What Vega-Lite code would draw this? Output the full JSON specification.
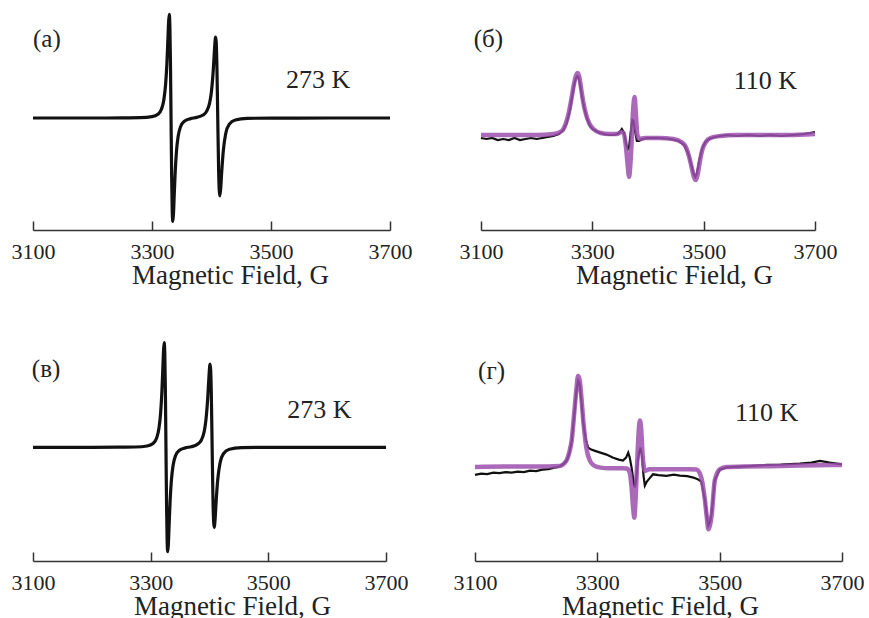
{
  "$schema": "https://vega.github.io/schema/vega-lite/v6.json",
  "background": "white",
  "padding": {"left": 11, "top": 8, "right": 0, "bottom": 0},
  "config": {
    "view": {"stroke": null},
    "axisX": {
      "domainColor": "#333333", "domainWidth": 1.5,
      "tickColor": "#333333", "tickWidth": 1.5, "tickSize": -9,
      "grid": false,
      "labelFont": "Liberation Serif", "labelFontSize": 22, "labelColor": "#222222",
      "labelPadding": 20, "labelFlush": false, "labelOverlap": false,
      "titleFont": "Liberation Serif", "titleFontSize": 27, "titleFontWeight": "normal",
      "titleColor": "#222222", "titlePadding": 0, "titleAlign": "center"
    }
  },
  "datasets": {
    "spec": [
      {"panel":"a","series":"exp","x":3100,"y":0},{"panel":"a","series":"exp","x":3200,"y":0},{"panel":"a","series":"exp","x":3250,"y":0.001},{"panel":"a","series":"exp","x":3280,"y":0.003},{"panel":"a","series":"exp","x":3300,"y":0.013},{"panel":"a","series":"exp","x":3310,"y":0.038},{"panel":"a","series":"exp","x":3316,"y":0.09},{"panel":"a","series":"exp","x":3320,"y":0.185},{"panel":"a","series":"exp","x":3323,"y":0.346},{"panel":"a","series":"exp","x":3325,"y":0.542},{"panel":"a","series":"exp","x":3326.5,"y":0.752},{"panel":"a","series":"exp","x":3328,"y":0.969},{"panel":"a","series":"exp","x":3329,"y":1.036},{"panel":"a","series":"exp","x":3330,"y":0.932},{"panel":"a","series":"exp","x":3331,"y":0.57},{"panel":"a","series":"exp","x":3332,"y":0.001},{"panel":"a","series":"exp","x":3333,"y":-0.568},{"panel":"a","series":"exp","x":3334,"y":-0.93},{"panel":"a","series":"exp","x":3335,"y":-1.034},{"panel":"a","series":"exp","x":3336,"y":-0.967},{"panel":"a","series":"exp","x":3337.5,"y":-0.75},{"panel":"a","series":"exp","x":3339,"y":-0.54},{"panel":"a","series":"exp","x":3341,"y":-0.343},{"panel":"a","series":"exp","x":3344,"y":-0.182},{"panel":"a","series":"exp","x":3348,"y":-0.087},{"panel":"a","series":"exp","x":3355,"y":-0.03},{"panel":"a","series":"exp","x":3365,"y":-0.006},{"panel":"a","series":"exp","x":3375,"y":0.006},{"panel":"a","series":"exp","x":3385,"y":0.027},{"panel":"a","series":"exp","x":3392,"y":0.069},{"panel":"a","series":"exp","x":3397,"y":0.154},{"panel":"a","series":"exp","x":3400,"y":0.269},{"panel":"a","series":"exp","x":3403,"y":0.481},{"panel":"a","series":"exp","x":3405,"y":0.68},{"panel":"a","series":"exp","x":3406.5,"y":0.798},{"panel":"a","series":"exp","x":3407,"y":0.809},{"panel":"a","series":"exp","x":3408,"y":0.75},{"panel":"a","series":"exp","x":3409,"y":0.547},{"panel":"a","series":"exp","x":3410.5,"y":-0.001},{"panel":"a","series":"exp","x":3412,"y":-0.53},{"panel":"a","series":"exp","x":3413,"y":-0.72},{"panel":"a","series":"exp","x":3414,"y":-0.78},{"panel":"a","series":"exp","x":3415.5,"y":-0.7},{"panel":"a","series":"exp","x":3417,"y":-0.555},{"panel":"a","series":"exp","x":3420,"y":-0.318},{"panel":"a","series":"exp","x":3424,"y":-0.152},{"panel":"a","series":"exp","x":3430,"y":-0.061},{"panel":"a","series":"exp","x":3440,"y":-0.02},{"panel":"a","series":"exp","x":3460,"y":-0.004},{"panel":"a","series":"exp","x":3500,"y":-0.001},{"panel":"a","series":"exp","x":3600,"y":0},{"panel":"a","series":"exp","x":3700,"y":0},

      {"panel":"c","series":"exp","x":3100,"y":0},{"panel":"c","series":"exp","x":3200,"y":0},{"panel":"c","series":"exp","x":3244,"y":0.001},{"panel":"c","series":"exp","x":3274,"y":0.003},{"panel":"c","series":"exp","x":3294,"y":0.013},{"panel":"c","series":"exp","x":3304,"y":0.038},{"panel":"c","series":"exp","x":3310,"y":0.091},{"panel":"c","series":"exp","x":3314,"y":0.187},{"panel":"c","series":"exp","x":3317,"y":0.35},{"panel":"c","series":"exp","x":3319,"y":0.548},{"panel":"c","series":"exp","x":3320.5,"y":0.76},{"panel":"c","series":"exp","x":3322,"y":0.98},{"panel":"c","series":"exp","x":3323,"y":1.048},{"panel":"c","series":"exp","x":3324,"y":0.942},{"panel":"c","series":"exp","x":3325,"y":0.576},{"panel":"c","series":"exp","x":3326,"y":0.001},{"panel":"c","series":"exp","x":3327,"y":-0.574},{"panel":"c","series":"exp","x":3328,"y":-0.94},{"panel":"c","series":"exp","x":3329,"y":-1.044},{"panel":"c","series":"exp","x":3330,"y":-0.977},{"panel":"c","series":"exp","x":3331.5,"y":-0.758},{"panel":"c","series":"exp","x":3333,"y":-0.545},{"panel":"c","series":"exp","x":3335,"y":-0.346},{"panel":"c","series":"exp","x":3338,"y":-0.184},{"panel":"c","series":"exp","x":3342,"y":-0.088},{"panel":"c","series":"exp","x":3349,"y":-0.03},{"panel":"c","series":"exp","x":3359,"y":-0.006},{"panel":"c","series":"exp","x":3369,"y":0.006},{"panel":"c","series":"exp","x":3379,"y":0.028},{"panel":"c","series":"exp","x":3386,"y":0.071},{"panel":"c","series":"exp","x":3391,"y":0.158},{"panel":"c","series":"exp","x":3394,"y":0.277},{"panel":"c","series":"exp","x":3397,"y":0.495},{"panel":"c","series":"exp","x":3399,"y":0.7},{"panel":"c","series":"exp","x":3400.5,"y":0.82},{"panel":"c","series":"exp","x":3401,"y":0.833},{"panel":"c","series":"exp","x":3402,"y":0.772},{"panel":"c","series":"exp","x":3403,"y":0.563},{"panel":"c","series":"exp","x":3404.5,"y":-0.001},{"panel":"c","series":"exp","x":3406,"y":-0.56},{"panel":"c","series":"exp","x":3407,"y":-0.74},{"panel":"c","series":"exp","x":3408,"y":-0.8},{"panel":"c","series":"exp","x":3409.5,"y":-0.72},{"panel":"c","series":"exp","x":3411,"y":-0.57},{"panel":"c","series":"exp","x":3414,"y":-0.323},{"panel":"c","series":"exp","x":3418,"y":-0.154},{"panel":"c","series":"exp","x":3424,"y":-0.062},{"panel":"c","series":"exp","x":3434,"y":-0.02},{"panel":"c","series":"exp","x":3454,"y":-0.004},{"panel":"c","series":"exp","x":3494,"y":-0.001},{"panel":"c","series":"exp","x":3600,"y":0},{"panel":"c","series":"exp","x":3700,"y":0},

      {"panel":"b","series":"exp","x":3100,"y":-0.01},{"panel":"b","series":"exp","x":3110,"y":-0.02},{"panel":"b","series":"exp","x":3120,"y":-0.01},{"panel":"b","series":"exp","x":3130,"y":-0.03},{"panel":"b","series":"exp","x":3140,"y":-0.02},{"panel":"b","series":"exp","x":3150,"y":-0.03},{"panel":"b","series":"exp","x":3160,"y":-0.01},{"panel":"b","series":"exp","x":3170,"y":-0.03},{"panel":"b","series":"exp","x":3180,"y":-0.02},{"panel":"b","series":"exp","x":3190,"y":-0.01},{"panel":"b","series":"exp","x":3200,"y":-0.02},{"panel":"b","series":"exp","x":3210,"y":-0.01},{"panel":"b","series":"exp","x":3220,"y":0},{"panel":"b","series":"exp","x":3230,"y":0.01},{"panel":"b","series":"exp","x":3240,"y":0.03},{"panel":"b","series":"exp","x":3248,"y":0.07},{"panel":"b","series":"exp","x":3254,"y":0.14},{"panel":"b","series":"exp","x":3259,"y":0.25},{"panel":"b","series":"exp","x":3263,"y":0.38},{"panel":"b","series":"exp","x":3267,"y":0.51},{"panel":"b","series":"exp","x":3270,"y":0.58},{"panel":"b","series":"exp","x":3273,"y":0.61},{"panel":"b","series":"exp","x":3275,"y":0.6},{"panel":"b","series":"exp","x":3278,"y":0.53},{"panel":"b","series":"exp","x":3281,"y":0.42},{"panel":"b","series":"exp","x":3285,"y":0.3},{"panel":"b","series":"exp","x":3290,"y":0.19},{"panel":"b","series":"exp","x":3295,"y":0.12},{"panel":"b","series":"exp","x":3300,"y":0.08},{"panel":"b","series":"exp","x":3310,"y":0.05},{"panel":"b","series":"exp","x":3320,"y":0.03},{"panel":"b","series":"exp","x":3330,"y":0.02},{"panel":"b","series":"exp","x":3340,"y":0.02},{"panel":"b","series":"exp","x":3348,"y":0.04},{"panel":"b","series":"exp","x":3353,"y":0.08},{"panel":"b","series":"exp","x":3357,"y":0.04},{"panel":"b","series":"exp","x":3361,"y":-0.08},{"panel":"b","series":"exp","x":3364,"y":-0.12},{"panel":"b","series":"exp","x":3366,"y":-0.1},{"panel":"b","series":"exp","x":3369,"y":0.05},{"panel":"b","series":"exp","x":3372,"y":0.17},{"panel":"b","series":"exp","x":3374,"y":0.16},{"panel":"b","series":"exp","x":3377,"y":0.05},{"panel":"b","series":"exp","x":3380,"y":-0.04},{"panel":"b","series":"exp","x":3384,"y":-0.04},{"panel":"b","series":"exp","x":3390,"y":-0.02},{"panel":"b","series":"exp","x":3400,"y":-0.01},{"panel":"b","series":"exp","x":3420,"y":-0.01},{"panel":"b","series":"exp","x":3440,"y":-0.02},{"panel":"b","series":"exp","x":3455,"y":-0.04},{"panel":"b","series":"exp","x":3465,"y":-0.08},{"panel":"b","series":"exp","x":3472,"y":-0.16},{"panel":"b","series":"exp","x":3478,"y":-0.28},{"panel":"b","series":"exp","x":3482,"y":-0.37},{"panel":"b","series":"exp","x":3485,"y":-0.4},{"panel":"b","series":"exp","x":3488,"y":-0.36},{"panel":"b","series":"exp","x":3492,"y":-0.24},{"panel":"b","series":"exp","x":3497,"y":-0.12},{"panel":"b","series":"exp","x":3503,"y":-0.05},{"panel":"b","series":"exp","x":3510,"y":-0.02},{"panel":"b","series":"exp","x":3520,"y":0},{"panel":"b","series":"exp","x":3540,"y":0.02},{"panel":"b","series":"exp","x":3560,"y":0.01},{"panel":"b","series":"exp","x":3580,"y":0.02},{"panel":"b","series":"exp","x":3600,"y":0.01},{"panel":"b","series":"exp","x":3620,"y":0.02},{"panel":"b","series":"exp","x":3640,"y":0.01},{"panel":"b","series":"exp","x":3660,"y":0.02},{"panel":"b","series":"exp","x":3680,"y":0.03},{"panel":"b","series":"exp","x":3690,"y":0.04},{"panel":"b","series":"exp","x":3700,"y":0.05},

      {"panel":"b","series":"sim","x":3100,"y":0.02},{"panel":"b","series":"sim","x":3150,"y":0.02},{"panel":"b","series":"sim","x":3200,"y":0.02},{"panel":"b","series":"sim","x":3230,"y":0.03},{"panel":"b","series":"sim","x":3245,"y":0.06},{"panel":"b","series":"sim","x":3252,"y":0.13},{"panel":"b","series":"sim","x":3258,"y":0.25},{"panel":"b","series":"sim","x":3263,"y":0.4},{"panel":"b","series":"sim","x":3267,"y":0.53},{"panel":"b","series":"sim","x":3271,"y":0.62},{"panel":"b","series":"sim","x":3274,"y":0.64},{"panel":"b","series":"sim","x":3277,"y":0.59},{"panel":"b","series":"sim","x":3280,"y":0.48},{"panel":"b","series":"sim","x":3284,"y":0.34},{"panel":"b","series":"sim","x":3289,"y":0.22},{"panel":"b","series":"sim","x":3295,"y":0.13},{"panel":"b","series":"sim","x":3302,"y":0.08},{"panel":"b","series":"sim","x":3315,"y":0.04},{"panel":"b","series":"sim","x":3330,"y":0.03},{"panel":"b","series":"sim","x":3345,"y":0.03},{"panel":"b","series":"sim","x":3352,"y":0.05},{"panel":"b","series":"sim","x":3356,"y":0.04},{"panel":"b","series":"sim","x":3360,"y":-0.08},{"panel":"b","series":"sim","x":3363,"y":-0.25},{"panel":"b","series":"sim","x":3366,"y":-0.4},{"panel":"b","series":"sim","x":3368,"y":-0.3},{"panel":"b","series":"sim","x":3371,"y":0},{"panel":"b","series":"sim","x":3373,"y":0.25},{"panel":"b","series":"sim","x":3376,"y":0.4},{"panel":"b","series":"sim","x":3378,"y":0.25},{"panel":"b","series":"sim","x":3381,"y":0.02},{"panel":"b","series":"sim","x":3385,"y":-0.02},{"panel":"b","series":"sim","x":3395,"y":-0.01},{"panel":"b","series":"sim","x":3420,"y":-0.01},{"panel":"b","series":"sim","x":3445,"y":-0.02},{"panel":"b","series":"sim","x":3460,"y":-0.05},{"panel":"b","series":"sim","x":3468,"y":-0.1},{"panel":"b","series":"sim","x":3474,"y":-0.2},{"panel":"b","series":"sim","x":3479,"y":-0.32},{"panel":"b","series":"sim","x":3483,"y":-0.41},{"panel":"b","series":"sim","x":3486,"y":-0.43},{"panel":"b","series":"sim","x":3489,"y":-0.38},{"panel":"b","series":"sim","x":3493,"y":-0.25},{"panel":"b","series":"sim","x":3498,"y":-0.12},{"panel":"b","series":"sim","x":3504,"y":-0.05},{"panel":"b","series":"sim","x":3512,"y":-0.01},{"panel":"b","series":"sim","x":3530,"y":0.01},{"panel":"b","series":"sim","x":3560,"y":0.02},{"panel":"b","series":"sim","x":3600,"y":0.02},{"panel":"b","series":"sim","x":3650,"y":0.02},{"panel":"b","series":"sim","x":3700,"y":0.03},

      {"panel":"d","series":"exp","x":3100,"y":-0.073},{"panel":"d","series":"exp","x":3110,"y":-0.06},{"panel":"d","series":"exp","x":3120,"y":-0.065},{"panel":"d","series":"exp","x":3130,"y":-0.05},{"panel":"d","series":"exp","x":3140,"y":-0.055},{"panel":"d","series":"exp","x":3150,"y":-0.045},{"panel":"d","series":"exp","x":3160,"y":-0.05},{"panel":"d","series":"exp","x":3170,"y":-0.04},{"panel":"d","series":"exp","x":3180,"y":-0.045},{"panel":"d","series":"exp","x":3190,"y":-0.03},{"panel":"d","series":"exp","x":3200,"y":-0.035},{"panel":"d","series":"exp","x":3210,"y":-0.02},{"panel":"d","series":"exp","x":3220,"y":-0.015},{"panel":"d","series":"exp","x":3230,"y":0},{"panel":"d","series":"exp","x":3238,"y":0.01},{"panel":"d","series":"exp","x":3245,"y":0.04},{"panel":"d","series":"exp","x":3250,"y":0.07},{"panel":"d","series":"exp","x":3254,"y":0.14},{"panel":"d","series":"exp","x":3258,"y":0.26},{"panel":"d","series":"exp","x":3263,"y":0.57},{"panel":"d","series":"exp","x":3266,"y":0.78},{"panel":"d","series":"exp","x":3268.5,"y":0.87},{"panel":"d","series":"exp","x":3271,"y":0.84},{"panel":"d","series":"exp","x":3274,"y":0.66},{"panel":"d","series":"exp","x":3277,"y":0.45},{"panel":"d","series":"exp","x":3281,"y":0.28},{"panel":"d","series":"exp","x":3285,"y":0.2},{"panel":"d","series":"exp","x":3290,"y":0.18},{"panel":"d","series":"exp","x":3295,"y":0.17},{"panel":"d","series":"exp","x":3305,"y":0.15},{"panel":"d","series":"exp","x":3315,"y":0.13},{"panel":"d","series":"exp","x":3325,"y":0.1},{"panel":"d","series":"exp","x":3335,"y":0.08},{"panel":"d","series":"exp","x":3342,"y":0.07},{"panel":"d","series":"exp","x":3347,"y":0.1},{"panel":"d","series":"exp","x":3350.5,"y":0.15},{"panel":"d","series":"exp","x":3353,"y":0.1},{"panel":"d","series":"exp","x":3356,"y":0},{"panel":"d","series":"exp","x":3359,"y":-0.13},{"panel":"d","series":"exp","x":3361,"y":-0.2},{"panel":"d","series":"exp","x":3363,"y":-0.15},{"panel":"d","series":"exp","x":3365,"y":0},{"panel":"d","series":"exp","x":3368,"y":0.15},{"panel":"d","series":"exp","x":3370.5,"y":0.2},{"panel":"d","series":"exp","x":3373,"y":0.12},{"panel":"d","series":"exp","x":3375.5,"y":-0.08},{"panel":"d","series":"exp","x":3377.7,"y":-0.18},{"panel":"d","series":"exp","x":3381,"y":-0.14},{"panel":"d","series":"exp","x":3385,"y":-0.11},{"panel":"d","series":"exp","x":3391,"y":-0.067},{"panel":"d","series":"exp","x":3400,"y":-0.075},{"panel":"d","series":"exp","x":3413,"y":-0.083},{"panel":"d","series":"exp","x":3425,"y":-0.07},{"panel":"d","series":"exp","x":3435,"y":-0.08},{"panel":"d","series":"exp","x":3447,"y":-0.085},{"panel":"d","series":"exp","x":3457,"y":-0.1},{"panel":"d","series":"exp","x":3465,"y":-0.12},{"panel":"d","series":"exp","x":3470,"y":-0.14},{"panel":"d","series":"exp","x":3476,"y":-0.33},{"panel":"d","series":"exp","x":3479,"y":-0.48},{"panel":"d","series":"exp","x":3481.5,"y":-0.58},{"panel":"d","series":"exp","x":3484,"y":-0.55},{"panel":"d","series":"exp","x":3487,"y":-0.45},{"panel":"d","series":"exp","x":3492,"y":-0.13},{"panel":"d","series":"exp","x":3500,"y":-0.02},{"panel":"d","series":"exp","x":3510,"y":0},{"panel":"d","series":"exp","x":3522,"y":0.007},{"panel":"d","series":"exp","x":3550,"y":0.015},{"panel":"d","series":"exp","x":3577,"y":0.027},{"panel":"d","series":"exp","x":3600,"y":0.03},{"panel":"d","series":"exp","x":3631,"y":0.04},{"panel":"d","series":"exp","x":3650,"y":0.05},{"panel":"d","series":"exp","x":3664,"y":0.067},{"panel":"d","series":"exp","x":3680,"y":0.05},{"panel":"d","series":"exp","x":3700,"y":0.033},

      {"panel":"d","series":"sim","x":3100,"y":0.007},{"panel":"d","series":"sim","x":3150,"y":0.01},{"panel":"d","series":"sim","x":3200,"y":0.01},{"panel":"d","series":"sim","x":3238,"y":0.017},{"panel":"d","series":"sim","x":3249,"y":0.067},{"panel":"d","series":"sim","x":3254,"y":0.15},{"panel":"d","series":"sim","x":3258,"y":0.27},{"panel":"d","series":"sim","x":3263,"y":0.6},{"panel":"d","series":"sim","x":3266,"y":0.8},{"panel":"d","series":"sim","x":3268.5,"y":0.917},{"panel":"d","series":"sim","x":3271,"y":0.88},{"panel":"d","series":"sim","x":3274,"y":0.7},{"panel":"d","series":"sim","x":3277,"y":0.47},{"panel":"d","series":"sim","x":3282,"y":0.2},{"panel":"d","series":"sim","x":3288,"y":0.067},{"panel":"d","series":"sim","x":3295,"y":0.02},{"panel":"d","series":"sim","x":3305,"y":0},{"panel":"d","series":"sim","x":3320,"y":-0.007},{"panel":"d","series":"sim","x":3340,"y":-0.007},{"panel":"d","series":"sim","x":3348,"y":-0.01},{"panel":"d","series":"sim","x":3353,"y":-0.05},{"panel":"d","series":"sim","x":3356,"y":-0.2},{"panel":"d","series":"sim","x":3358.5,"y":-0.4},{"panel":"d","series":"sim","x":3360.5,"y":-0.5},{"panel":"d","series":"sim","x":3362,"y":-0.38},{"panel":"d","series":"sim","x":3365,"y":0.03},{"panel":"d","series":"sim","x":3367.5,"y":0.35},{"panel":"d","series":"sim","x":3369.5,"y":0.47},{"panel":"d","series":"sim","x":3371.5,"y":0.4},{"panel":"d","series":"sim","x":3374,"y":0.13},{"panel":"d","series":"sim","x":3378,"y":-0.033},{"panel":"d","series":"sim","x":3385,"y":-0.017},{"panel":"d","series":"sim","x":3420,"y":-0.017},{"panel":"d","series":"sim","x":3450,"y":-0.017},{"panel":"d","series":"sim","x":3462,"y":-0.02},{"panel":"d","series":"sim","x":3470,"y":-0.1},{"panel":"d","series":"sim","x":3476,"y":-0.33},{"panel":"d","series":"sim","x":3479,"y":-0.5},{"panel":"d","series":"sim","x":3481.5,"y":-0.617},{"panel":"d","series":"sim","x":3484,"y":-0.58},{"panel":"d","series":"sim","x":3487,"y":-0.47},{"panel":"d","series":"sim","x":3492,"y":-0.13},{"panel":"d","series":"sim","x":3500,"y":-0.017},{"panel":"d","series":"sim","x":3511,"y":0.007},{"panel":"d","series":"sim","x":3540,"y":0.01},{"panel":"d","series":"sim","x":3570,"y":0.013},{"panel":"d","series":"sim","x":3600,"y":0.017},{"panel":"d","series":"sim","x":3630,"y":0.02},{"panel":"d","series":"sim","x":3660,"y":0.023},{"panel":"d","series":"sim","x":3700,"y":0.027}
    ],
    "labels": [
      {"panel":"a","kind":"tag","label":"(а)","x":3100,"y":0.79},
      {"panel":"a","kind":"temp","label":"273 K","x":3525,"y":0.38},
      {"panel":"b","kind":"tag","label":"(б)","x":3087,"y":0.98},
      {"panel":"b","kind":"temp","label":"110 K","x":3554,"y":0.56},
      {"panel":"c","kind":"tag","label":"(в)","x":3098,"y":0.78},
      {"panel":"c","kind":"temp","label":"273 K","x":3532,"y":0.37},
      {"panel":"d","kind":"tag","label":"(г)","x":3105,"y":0.97},
      {"panel":"d","kind":"temp","label":"110 K","x":3525,"y":0.55}
    ]
  },
  "vconcat": [
    {
      "hconcat": [
        {
          "width": 357, "height": 220,
          "layer": [
            {"data":{"name":"spec"},"transform":[{"filter":"datum.panel==='a'"}],
             "mark":{"type":"line","color":"#111111","strokeWidth":3.2,"interpolate":"monotone"},
             "encoding":{
               "x":{"field":"x","type":"quantitative","scale":{"domain":[3100,3700],"nice":false,"zero":false},"axis":{"values":[3100,3300,3500,3700],"format":"d","title":"Magnetic Field, G","titleX":197}},
               "y":{"field":"y","type":"quantitative","scale":{"domain":[-1.12,1.08],"nice":false,"zero":false},"axis":null}}},
            {"data":{"name":"labels"},"transform":[{"filter":"datum.panel==='a'"}],
             "mark":{"type":"text","align":"left","baseline":"middle","font":"Liberation Serif","color":"#222222"},
             "encoding":{"x":{"field":"x","type":"quantitative"},"y":{"field":"y","type":"quantitative"},"text":{"field":"label"},
               "size":{"field":"kind","type":"nominal","scale":{"domain":["tag","temp"],"range":[25,26]},"legend":null}}}
          ]
        },
        {
          "width": 334, "height": 220,
          "layer": [
            {"data":{"name":"spec"},"transform":[{"filter":"datum.panel==='b' && datum.series==='exp'"}],
             "mark":{"type":"line","color":"#111111","strokeWidth":2.2},
             "encoding":{
               "x":{"field":"x","type":"quantitative","scale":{"domain":[3100,3700],"nice":false,"zero":false},"axis":{"values":[3100,3300,3500,3700],"format":"d","title":"Magnetic Field, G","titleX":193}},
               "y":{"field":"y","type":"quantitative","scale":{"domain":[-0.93,1.27],"nice":false,"zero":false},"axis":null}}},
            {"data":{"name":"spec"},"transform":[{"filter":"datum.panel==='b' && datum.series==='sim'"}],
             "mark":{"type":"line","color":"#9c4fae","strokeWidth":4.5,"opacity":0.85,"interpolate":"monotone"},
             "encoding":{"x":{"field":"x","type":"quantitative"},"y":{"field":"y","type":"quantitative"}}},
            {"data":{"name":"labels"},"transform":[{"filter":"datum.panel==='b'"}],
             "mark":{"type":"text","align":"left","baseline":"middle","font":"Liberation Serif","color":"#222222"},
             "encoding":{"x":{"field":"x","type":"quantitative"},"y":{"field":"y","type":"quantitative"},"text":{"field":"label"},
               "size":{"field":"kind","type":"nominal","scale":{"domain":["tag","temp"],"range":[25,26]},"legend":null}}}
          ]
        }
      ],
      "spacing": 91,
      "bounds": "flush"
    },
    {
      "hconcat": [
        {
          "width": 353, "height": 220,
          "layer": [
            {"data":{"name":"spec"},"transform":[{"filter":"datum.panel==='c'"}],
             "mark":{"type":"line","color":"#111111","strokeWidth":3.2,"interpolate":"monotone"},
             "encoding":{
               "x":{"field":"x","type":"quantitative","scale":{"domain":[3100,3700],"nice":false,"zero":false},"axis":{"values":[3100,3300,3500,3700],"format":"d","title":"Magnetic Field, G","titleX":199}},
               "y":{"field":"y","type":"quantitative","scale":{"domain":[-1.137,1.063],"nice":false,"zero":false},"axis":null}}},
            {"data":{"name":"labels"},"transform":[{"filter":"datum.panel==='c'"}],
             "mark":{"type":"text","align":"left","baseline":"middle","font":"Liberation Serif","color":"#222222"},
             "encoding":{"x":{"field":"x","type":"quantitative"},"y":{"field":"y","type":"quantitative"},"text":{"field":"label"},
               "size":{"field":"kind","type":"nominal","scale":{"domain":["tag","temp"],"range":[25,26]},"legend":null}}}
          ]
        },
        {
          "width": 367, "height": 220,
          "layer": [
            {"data":{"name":"spec"},"transform":[{"filter":"datum.panel==='d' && datum.series==='exp'"}],
             "mark":{"type":"line","color":"#111111","strokeWidth":2.2},
             "encoding":{
               "x":{"field":"x","type":"quantitative","scale":{"domain":[3100,3700],"nice":false,"zero":false},"axis":{"values":[3100,3300,3500,3700],"format":"d","title":"Magnetic Field, G","titleX":185}},
               "y":{"field":"y","type":"quantitative","scale":{"domain":[-0.934,1.266],"nice":false,"zero":false},"axis":null}}},
            {"data":{"name":"spec"},"transform":[{"filter":"datum.panel==='d' && datum.series==='sim'"}],
             "mark":{"type":"line","color":"#9c4fae","strokeWidth":4.5,"opacity":0.85,"interpolate":"monotone"},
             "encoding":{"x":{"field":"x","type":"quantitative"},"y":{"field":"y","type":"quantitative"}}},
            {"data":{"name":"labels"},"transform":[{"filter":"datum.panel==='d'"}],
             "mark":{"type":"text","align":"left","baseline":"middle","font":"Liberation Serif","color":"#222222"},
             "encoding":{"x":{"field":"x","type":"quantitative"},"y":{"field":"y","type":"quantitative"},"text":{"field":"label"},
               "size":{"field":"kind","type":"nominal","scale":{"domain":["tag","temp"],"range":[25,26]},"legend":null}}}
          ]
        }
      ],
      "spacing": 89,
      "bounds": "flush"
    }
  ],
  "spacing": 48
}
